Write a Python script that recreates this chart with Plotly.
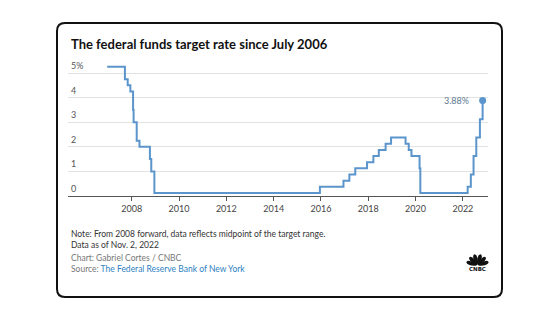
import math
import plotly.graph_objects as go

# Federal funds target rate (midpoint of the target range from 2008 on)
change_dates = [
    "2006-12-18", "2007-09-18", "2007-10-31", "2007-12-11", "2008-01-22",
    "2008-01-30", "2008-03-18", "2008-04-30", "2008-10-08", "2008-10-29",
    "2008-12-16", "2015-12-16", "2016-12-14", "2017-03-15", "2017-06-14",
    "2017-12-13", "2018-03-21", "2018-06-13", "2018-09-26", "2018-12-19",
    "2019-07-31", "2019-09-18", "2019-10-30", "2020-03-03", "2020-03-15",
    "2022-03-16", "2022-05-04", "2022-06-15", "2022-07-27", "2022-09-21",
    "2022-11-02",
]
rates = [
    5.25, 4.75, 4.5, 4.25, 3.5,
    3.0, 2.25, 2.0, 1.5, 1.0,
    0.125, 0.375, 0.625, 0.875, 1.125,
    1.375, 1.625, 1.875, 2.125, 2.375,
    2.125, 1.875, 1.625, 1.125, 0.125,
    0.375, 0.875, 1.625, 2.375, 3.125,
    3.88,
]

y_ticks = [0, 1, 2, 3, 4, 5]
y_tick_labels = ["0", "1", "2", "3", "4", "5%"]
x_ticks = ["2008-01-01", "2010-01-01", "2012-01-01", "2014-01-01",
           "2016-01-01", "2018-01-01", "2020-01-01", "2022-01-01"]
x_tick_labels = ["2008", "2010", "2012", "2014", "2016", "2018", "2020", "2022"]

W, H = 550, 324
L, R, T, B = 68, 62, 61, 128
PW, PH = W - L - R, H - T - B

FONT = "Lato"
LINE = "#5b95cc"


def px(x):
    return (x - L) / PW


def py(y):
    return (H - B - y) / PH


fig = go.Figure()

fig.add_trace(go.Scatter(
    x=change_dates, y=rates, mode="lines",
    line=dict(color=LINE, width=2, shape="hv"),
    hoverinfo="skip", showlegend=False,
))
fig.add_trace(go.Scatter(
    x=[change_dates[-1]], y=[rates[-1]], mode="markers",
    marker=dict(color=LINE, size=7),
    hoverinfo="skip", showlegend=False,
))

shapes = []

# card outline with rounded corners
x0, x1, y0, y1, r = 57, 502, 23, 297, 8
rx, ry = r / PW, r / PH
X0, X1, Y0, Y1 = px(x0), px(x1), py(y0), py(y1)
card = (f"M {X0+rx} {Y0} L {X1-rx} {Y0} Q {X1} {Y0} {X1} {Y0-ry} "
        f"L {X1} {Y1+ry} Q {X1} {Y1} {X1-rx} {Y1} "
        f"L {X0+rx} {Y1} Q {X0} {Y1} {X0} {Y1+ry} "
        f"L {X0} {Y0-ry} Q {X0} {Y0} {X0+rx} {Y0} Z")
shapes.append(dict(type="path", xref="paper", yref="paper", path=card,
                   line=dict(color="#111111", width=2), fillcolor="rgba(0,0,0,0)",
                   layer="below"))

# peacock logo feathers
cx, cy = 477.5, 265.5
for ang in [162, 134, 106, 74, 46, 18]:
    a = math.radians(ang)
    pts = []
    for k in range(18):
        t = 2 * math.pi * k / 18
        u = 6.2 + 5.4 * math.cos(t)
        v = 2.5 * math.sin(t) * (0.5 + 0.5 * (u / 11.6))
        X = cx + u * math.cos(a) - v * math.sin(a)
        Y = cy - (u * math.sin(a) + v * math.cos(a))
        pts.append((px(X), py(Y)))
    path = "M " + " L ".join(f"{p[0]} {p[1]}" for p in pts) + " Z"
    shapes.append(dict(type="path", xref="paper", yref="paper", path=path,
                       line=dict(width=0), fillcolor="#111111"))

annotations = []
annotations.append(dict(
    text="<b>The federal funds target rate since July 2006</b>",
    x=px(68.5), y=py(44), xref="paper", yref="paper",
    xanchor="left", yanchor="middle", showarrow=False,
    font=dict(family=FONT, size=13, color="#111111"),
))
for v, lab in zip(y_ticks, y_tick_labels):
    annotations.append(dict(
        text=lab, x=px(68.5), y=v, xref="paper", yref="y",
        xanchor="left", yanchor="bottom", yshift=0, showarrow=False,
        font=dict(family=FONT, size=9, color="#555555"),
    ))
annotations.append(dict(
    text=f"{rates[-1]:.2f}%", x=change_dates[-1], y=rates[-1],
    xref="x", yref="y", xanchor="right", yanchor="middle",
    xshift=-12, showarrow=False,
    font=dict(family=FONT, size=9, color="#5d7890"),
))
footer = [
    ("Note: From 2008 forward, data reflects midpoint of the target range.", 233.5, "#333333"),
    ("Data as of Nov. 2, 2022", 244.5, "#333333"),
    ("Chart: Gabriel Cortes / CNBC", 257.5, "#777777"),
    ("Source: <span style='color:#2f7fbf'>The Federal Reserve Bank of New York</span>", 269, "#777777"),
]
for txt, yy, col in footer:
    annotations.append(dict(
        text=txt, x=px(68.5), y=py(yy), xref="paper", yref="paper",
        xanchor="left", yanchor="middle", showarrow=False,
        font=dict(family=FONT, size=8.5, color=col),
    ))
annotations.append(dict(
    text="<b>CNBC</b>", x=px(477.5), y=py(268.8), xref="paper", yref="paper",
    xanchor="center", yanchor="middle", showarrow=False,
    font=dict(family="DejaVu Sans", size=5.5, color="#111111"),
))

fig.update_layout(
    width=W, height=H,
    margin=dict(l=L, r=R, t=T, b=B),
    paper_bgcolor="white", plot_bgcolor="white",
    shapes=shapes, annotations=annotations,
    xaxis=dict(
        type="date", range=["2005-04-22", "2023-01-24"],
        tickvals=x_ticks, ticktext=x_tick_labels,
        showgrid=False, zeroline=False,
        showline=True, linecolor="#555555", linewidth=1,
        ticks="outside", ticklen=4, tickcolor="#555555", tickwidth=1,
        tickfont=dict(family=FONT, size=9, color="#444444"),
        fixedrange=True,
    ),
    yaxis=dict(
        range=[0, PH / 24.6], tickvals=y_ticks[1:], showticklabels=False,
        showgrid=True, gridcolor="#e2e2e2", gridwidth=1,
        zeroline=False, showline=False, fixedrange=True,
    ),
)

fig.write_html("out.html", config={"displayModeBar": False})
